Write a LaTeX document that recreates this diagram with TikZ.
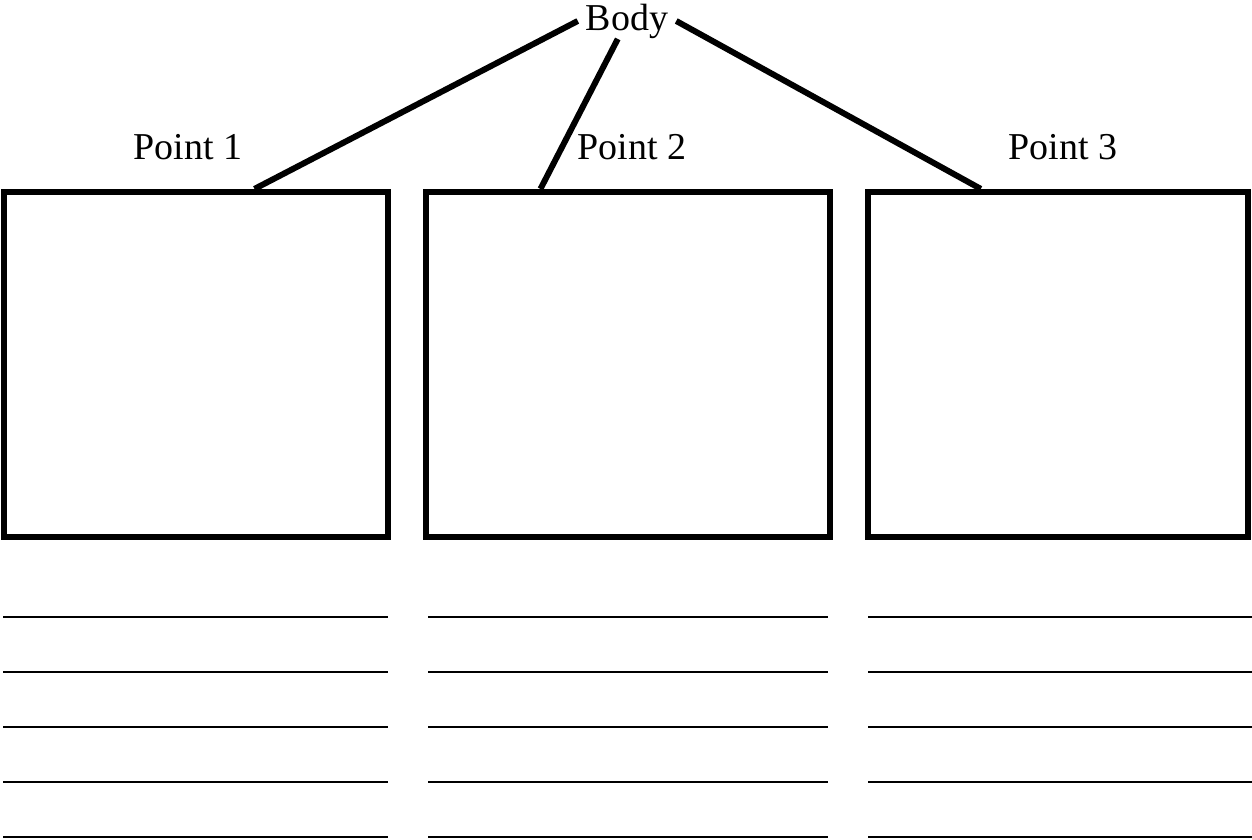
\documentclass[tikz,border=0pt]{standalone}
\usepackage{fontspec}
\setmainfont{Liberation Serif}
\usetikzlibrary{calc}
\tikzset{
	panel/.style={draw, rectangle, line width=1.7pt, inner sep=0pt},
	topic/.style={rectangle, inner xsep=2.1pt, inner ysep=0pt, font=\fontsize{10.8}{13}\selectfont},
	heading/.style={anchor=base, inner sep=0pt, font=\fontsize{10.8}{13}\selectfont},
	writeline/.style={line width=0.6pt},
}

\begin{document}
\begin{tikzpicture}[x=0.01cm, y=0.01cm]
	\useasboundingbox (0,0) rectangle (1252,840);
	
	\node (body) [topic] at (627,819) {Body};
	
	\node (box1) [panel, minimum width=3.84cm, minimum height=3.45cm] at (196,475.5) {};
	\node (box2) [panel, minimum width=4.035cm, minimum height=3.45cm] at (627.75,475.5) {};
	\node (box3) [panel, minimum width=3.80cm, minimum height=3.45cm] at (1058,475.5) {};
	
	\node (pt1) [heading] at (188,680) {Point 1};
	\node (pt2) [heading] at (632,680) {Point 2};
	\node (pt3) [heading] at (1063,680) {Point 3};
	
	\begin{scope}[line width=1.7pt, black]
		\draw (body.west) -- ($(box1.north west)!0.65!(box1.north east)$);
		\draw (body) -- ($(box2.north west)!0.287!(box2.north east)$);
		\draw (body.east) -- ($(box3.north west)!0.3!(box3.north east)$);
	\end{scope}
	
	% lines for writing under each box
	\foreach \y in {223,168,113,58,3} {
		\draw[writeline] (3,\y) -- (388,\y);
		\draw[writeline] (428,\y) -- (828,\y);
		\draw[writeline] (868,\y) -- (1252,\y);
	}
	
\end{tikzpicture}
\end{document}
